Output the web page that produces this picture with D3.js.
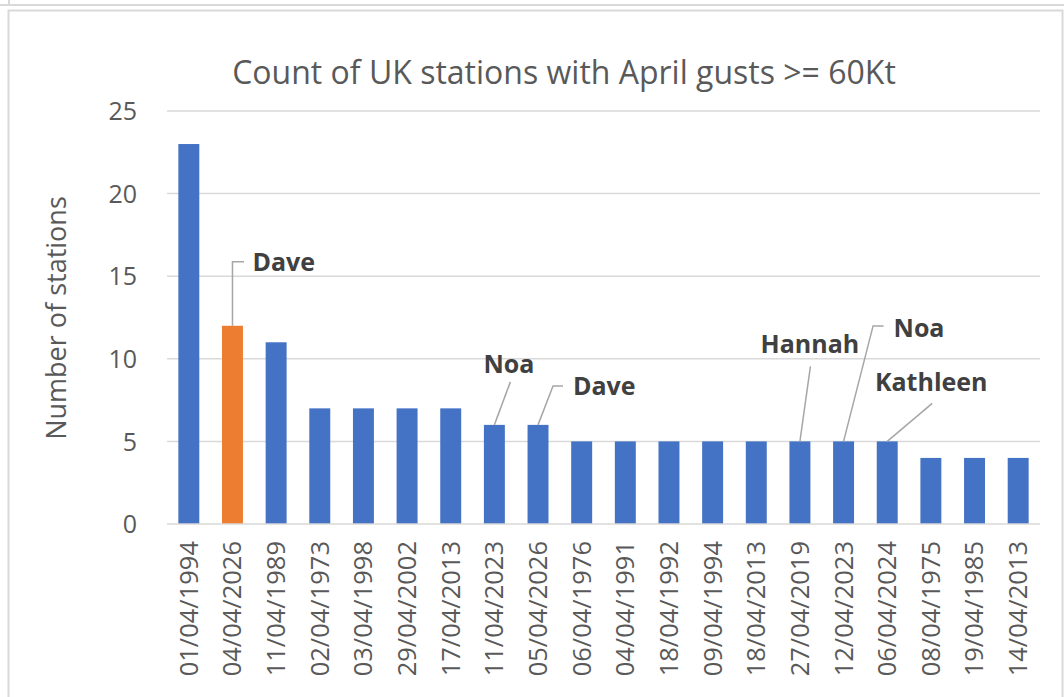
<!DOCTYPE html>
<html>
<head>
<meta charset="utf-8">
<script src="https://cdn.jsdelivr.net/npm/d3@7"></script>
<style>
  html, body { margin: 0; padding: 0; background: #fff; }
  svg { display: block; font-family: "Open Sans", "Noto Sans", sans-serif; }
  svg text { font-family: "Open Sans", "Noto Sans", sans-serif; }
</style>
</head>
<body>
<svg id="chart" width="1064" height="697"></svg>
<script>
// ---- data ----
const dates = ["01/04/1994","04/04/2026","11/04/1989","02/04/1973","03/04/1998","29/04/2002","17/04/2013","11/04/2023","05/04/2026","06/04/1976","04/04/1991","18/04/1992","09/04/1994","18/04/2013","27/04/2019","12/04/2023","06/04/2024","08/04/1975","19/04/1985","14/04/2013"];
const counts = [23,12,11,7,7,7,7,6,6,5,5,5,5,5,5,5,5,4,4,4];
const highlighted = ["04/04/2026"];
const yTicks = [0,5,10,15,20,25];
const stormDates = ["04/04/2026","11/04/2023","05/04/2026","27/04/2019","12/04/2023","06/04/2024"];
const stormNames = ["Dave","Noa","Dave","Hannah","Noa","Kathleen"];
const titleText = "Count of UK stations with April gusts >= 60Kt";
const yTitle = "Number of stations";

// ---- layout ----
const svg = d3.select("#chart");
const W = 1064, H = 697;
const FONT = '"Open Sans", "Noto Sans", sans-serif';
const plot = { left: 167, right: 1040, top: 111, bottom: 524 };

// frame
svg.append("line").attr("x1", 0).attr("x2", W).attr("y1", 5).attr("y2", 5)
  .attr("stroke", "#d9d9d9").attr("stroke-width", 2);
svg.append("line").attr("x1", 9).attr("x2", 9).attr("y1", 0).attr("y2", 5)
  .attr("stroke", "#d9d9d9").attr("stroke-width", 2);
svg.append("rect").attr("x", 8.5).attr("y", 10.5).attr("width", 1054).attr("height", 720)
  .attr("fill", "none").attr("stroke", "#d9d9d9").attr("stroke-width", 2);

const x = d3.scaleBand().domain(dates).range([plot.left, plot.right])
  .paddingInner(0.52).paddingOuter(0.26);
const y = d3.scaleLinear().domain([0, 25]).range([plot.bottom, plot.top]);

// gridlines
svg.append("g").selectAll("line").data(yTicks.filter(t => t > 0)).join("line")
  .attr("x1", plot.left).attr("x2", plot.right)
  .attr("y1", d => y(d)).attr("y2", d => y(d))
  .attr("stroke", "#d9d9d9").attr("stroke-width", 1.5);

// bars
const data = dates.map((d, i) => ({ date: d, value: counts[i] }));
svg.append("g").selectAll("rect").data(data).join("rect")
  .attr("x", d => x(d.date)).attr("width", x.bandwidth())
  .attr("y", d => y(d.value)).attr("height", d => y(0) - y(d.value))
  .attr("fill", d => highlighted.includes(d.date) ? "#ED7D31" : "#4472C4");

// x axis line
svg.append("line").attr("x1", plot.left).attr("x2", plot.right)
  .attr("y1", y(0)).attr("y2", y(0)).attr("stroke", "#d9d9d9").attr("stroke-width", 1.5);

// y axis
const yAxis = d3.axisLeft(y).tickValues(yTicks).tickSize(0).tickPadding(0).tickFormat(d3.format("d"));
const yg = svg.append("g").attr("transform", `translate(137,0)`).call(yAxis)
  .attr("font-family", FONT);
yg.select(".domain").remove();
yg.selectAll("text").attr("fill", "#595959").style("font-size", "25px").attr("dy", "0.35em");

// x axis labels
const xAxis = d3.axisBottom(x).tickSize(0).tickPadding(0);
const xg = svg.append("g").attr("transform", `translate(0,${plot.bottom})`).call(xAxis)
  .attr("font-family", FONT);
xg.select(".domain").remove();
xg.selectAll("text")
  .attr("fill", "#595959").style("font-size", "25.5px")
  .attr("text-anchor", "end")
  .attr("transform", "translate(0,17) rotate(-90)")
  .attr("x", 0).attr("y", 0).attr("dy", "0.35em");

// title
svg.append("text").attr("x", 564).attr("y", 84).attr("text-anchor", "middle")
  .attr("fill", "#595959").style("font-size", "32px").text(titleText);

// y title
svg.append("text").attr("transform", "translate(57,318) rotate(-90)")
  .attr("text-anchor", "middle").attr("dy", "0.35em")
  .attr("fill", "#595959").style("font-size", "27px").text(yTitle);

// annotations: leader points relative to bar top, label anchor
const annLayout = [
  { pts: [[0,-64],[11.5,-64]], tx: 20, ty: -64, anchor: "start" },
  { pts: [[16,-43]], tx: 14.5, ty: -61, anchor: "middle" },
  { pts: [[15,-39],[25,-39]], tx: 35, ty: -39, anchor: "start" },
  { pts: [[10.5,-75]], tx: 10, ty: -97, anchor: "middle" },
  { pts: [[29.5,-115.5],[40,-115.5]], tx: 50, ty: -113.5, anchor: "start" },
  { pts: [[45,-38]], tx: 44, ty: -59, anchor: "middle" }
];
const ann = svg.append("g");
stormDates.forEach((dt, i) => {
  const v = counts[dates.indexOf(dt)];
  const cx = x(dt) + x.bandwidth() / 2, cy = y(v);
  const L = annLayout[i];
  const pts = [[cx, cy]].concat(L.pts.map(p => [cx + p[0], cy + p[1]]));
  ann.append("path").attr("d", d3.line()(pts)).attr("fill", "none")
    .attr("stroke", "#a6a6a6").attr("stroke-width", 1.5);
  ann.append("text").attr("x", cx + L.tx).attr("y", cy + L.ty).attr("dy", "0.35em")
    .attr("text-anchor", L.anchor).attr("fill", "#404040")
    .style("font-size", "25px").style("font-weight", "bold").text(stormNames[i]);
});
</script>
</body>
</html>
